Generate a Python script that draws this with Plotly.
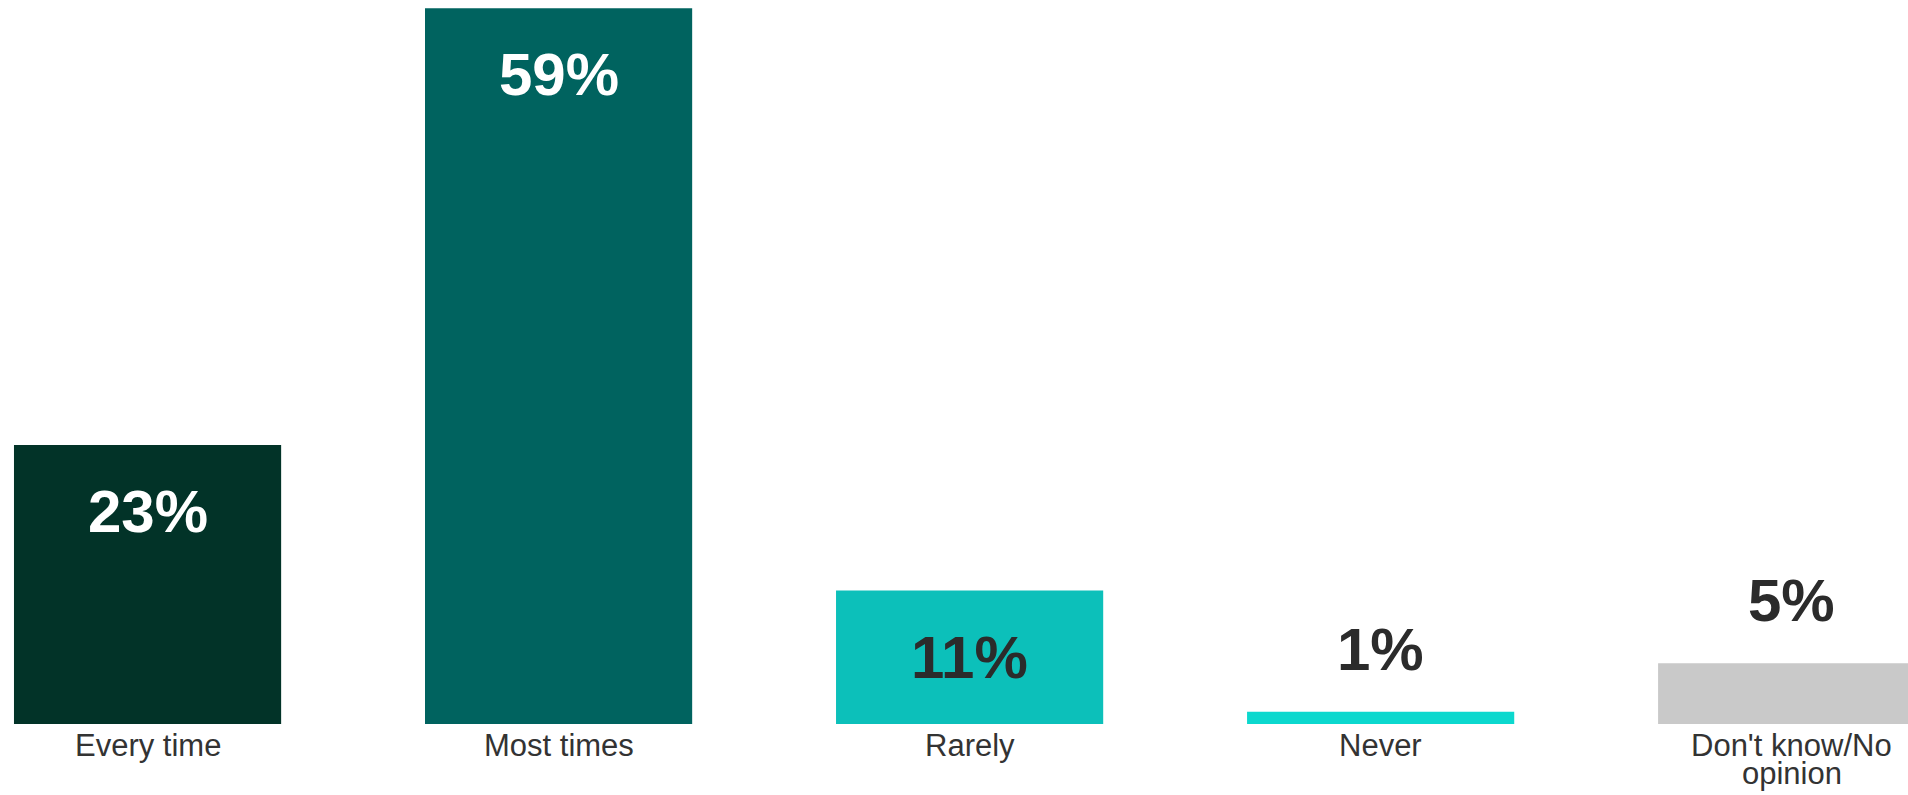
import plotly.graph_objects as go

# Survey responses (share of respondents, %)
categories = ["Every time", "Most times", "Rarely", "Never", "Don't know/No<br>opinion"]
values = [23, 59, 11, 1, 5]

bar_colors = ["#023328", "#00635F", "#0CC0BA", "#0CD8CE", "#C9C9C9"]
label_colors = ["#FFFFFF", "#FFFFFF", "#2B2B2B", "#2B2B2B", "#2B2B2B"]

FONT = "Arial, Liberation Sans, sans-serif"
INSIDE_MIN = 10  # values at or above this get their label inside the bar

x_pos = list(range(len(categories)))

fig = go.Figure(
    go.Bar(
        x=x_pos,
        y=values,
        marker=dict(color=bar_colors, line=dict(width=0)),
        hoverinfo="skip",
    )
)

annotations = []
for i, (cat, val) in enumerate(zip(categories, values)):
    # value label
    inside = val >= INSIDE_MIN
    annotations.append(
        dict(
            x=i, y=val, xref="x", yref="y",
            text=f"<b>{val}%</b>",
            showarrow=False,
            yanchor="top" if inside else "bottom",
            yshift=-31 if inside else 27,
            font=dict(family=FONT, size=60, color=label_colors[i]),
        )
    )
    # category label, one annotation per line for tight line spacing
    for j, line in enumerate(cat.split("<br>")):
        annotations.append(
            dict(
                x=i, y=0, xref="x", yref="paper",
                text=line,
                showarrow=False,
                yanchor="top",
                yshift=-2 - 28 * j,
                font=dict(family=FONT, size=31, color="#333333"),
            )
        )

fig.update_layout(
    width=1908,
    height=795,
    margin=dict(l=0, r=0, t=0, b=71, pad=0),
    paper_bgcolor="white",
    plot_bgcolor="white",
    bargap=0.35,
    showlegend=False,
    annotations=annotations,
    xaxis=dict(
        range=[-0.359, 4.283],
        showticklabels=False,
        showgrid=False,
        zeroline=False,
        showline=False,
        ticks="",
    ),
    yaxis=dict(
        range=[0, 59.69],
        showticklabels=False,
        showgrid=False,
        zeroline=False,
        showline=False,
        ticks="",
    ),
)

fig.write_html("out.html")
